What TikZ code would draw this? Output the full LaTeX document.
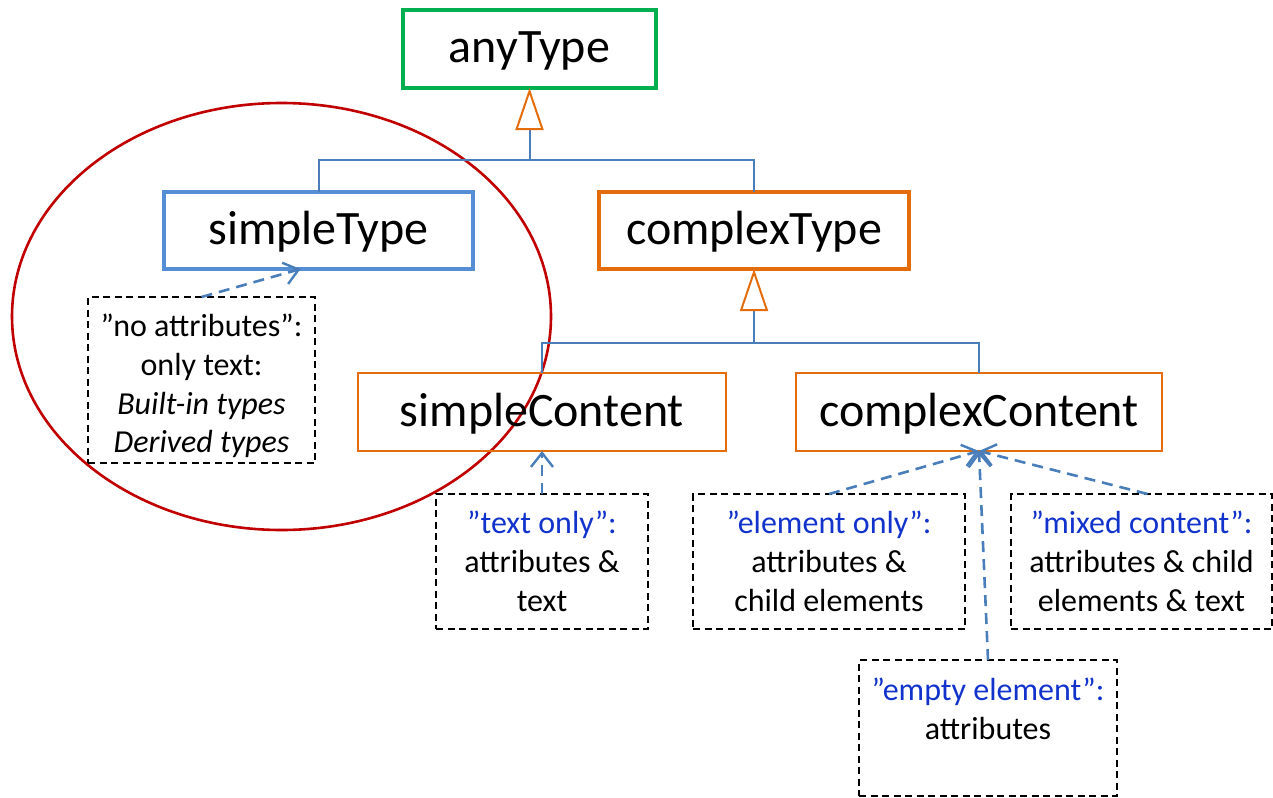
\documentclass[tikz,border=0pt]{standalone}
\usepackage{fontspec}
\setmainfont{Carlito}
\usetikzlibrary{arrows.meta,calc}
\definecolor{grn}{RGB}{0,176,80}
\definecolor{bluebox}{RGB}{85,142,213}
\definecolor{orng}{RGB}{228,108,10}
\definecolor{connblue}{RGB}{74,126,187}
\definecolor{dred}{RGB}{192,0,0}
\definecolor{txtblue}{RGB}{17,51,204}
\tikzset{
  title/.style={rectangle, inner sep=0pt, outer sep=0pt, font=\fontsize{48}{56}\selectfont,
    text height=36pt, text depth=8pt},
  thickbox/.style={title, line width=4pt},
  thinbox/.style={title, draw=orng, line width=1.8pt},
  notebox/.style={rectangle, draw=black, dash pattern=on 7pt off 4.5pt, line width=1.6pt,
    inner sep=0pt, outer sep=0pt, align=center, font=\fontsize{32}{38.7}\selectfont},
  conn/.style={draw=connblue, line width=2pt},
  gentip/.style={-{Triangle[open, length=42pt, width=28pt, color=orng, line width=2pt]}},
  dasharrow/.style={draw=connblue, line width=2.6pt, dash pattern=on 11pt off 7pt,
    -{Straight Barb[length=14pt, width=22pt, line width=2.4pt]}},
}
\begin{document}
\begin{tikzpicture}[x=1pt,y=-1pt]
\useasboundingbox (0,0) rectangle (1273,797);

% red ellipse
\draw[dred, line width=2.6pt] (281.5,316.5) ellipse [x radius=269.5, y radius=213.5];

% type boxes
\node[thickbox, draw=grn, minimum width=253pt, minimum height=78pt] (anyType) at (529.5,49) {anyType};
\node[thickbox, draw=bluebox, minimum width=309pt, minimum height=77pt] (simpleType) at (318.5,230.5) {simpleType};
\node[thickbox, draw=orng, minimum width=310pt, minimum height=77pt] (complexType) at (754,230.5) {complexType};
\node[thinbox, minimum width=368pt, minimum height=78pt] (simpleContent) at (542,412) {simpleContent};
\node[thinbox, minimum width=366pt, minimum height=78pt] (complexContent) at (979,412) {complexContent};

% note boxes
\node[notebox, minimum width=227pt, minimum height=166pt] (noattr) at (201.5,380)
  {”no attributes”:\\only text:\\\textit{Built-in types}\\\textit{Derived types}\\[-46pt]\mbox{}};
\node[notebox, minimum width=212pt, minimum height=135pt] (textonly) at (542,561.5)
  {\textcolor{txtblue}{”text only”:}\\attributes \&\\text};
\node[notebox, minimum width=272pt, minimum height=135pt] (elemonly) at (829,561.5)
  {\textcolor{txtblue}{”element only”:}\\attributes \&\\child elements};
\node[notebox, minimum width=261pt, minimum height=135pt] (mixed) at (1141.5,561.5)
  {\textcolor{txtblue}{”mixed content”:}\\attributes \& child\\elements \& text};
\node[notebox, minimum width=258pt, minimum height=136pt] (empty) at (988,728)
  {\textcolor{txtblue}{”empty element”:}\\attributes\\\mbox{}};

% generalization connectors
\coordinate (j1) at (529.5,160);
\draw[conn] (simpleType.north) |- (j1) -| (complexType.north);
\draw[conn, gentip] (j1) -- (anyType.south);

\coordinate (j2) at (754,343);
\draw[conn] (simpleContent.north) |- (j2) -| (complexContent.north);
\draw[conn, gentip] (j2) -- (complexType.south);

% dashed arrows
\draw[dasharrow] (noattr.north) -- ([xshift=-18pt]simpleType.south);
\draw[dasharrow] (textonly.north) -- (simpleContent.south);
\draw[dasharrow] (elemonly.north) -- (complexContent.south);
\draw[dasharrow] ([xshift=6pt]mixed.north) -- (complexContent.south);
\draw[dasharrow] (empty.north) -- (complexContent.south);
\end{tikzpicture}
\end{document}
